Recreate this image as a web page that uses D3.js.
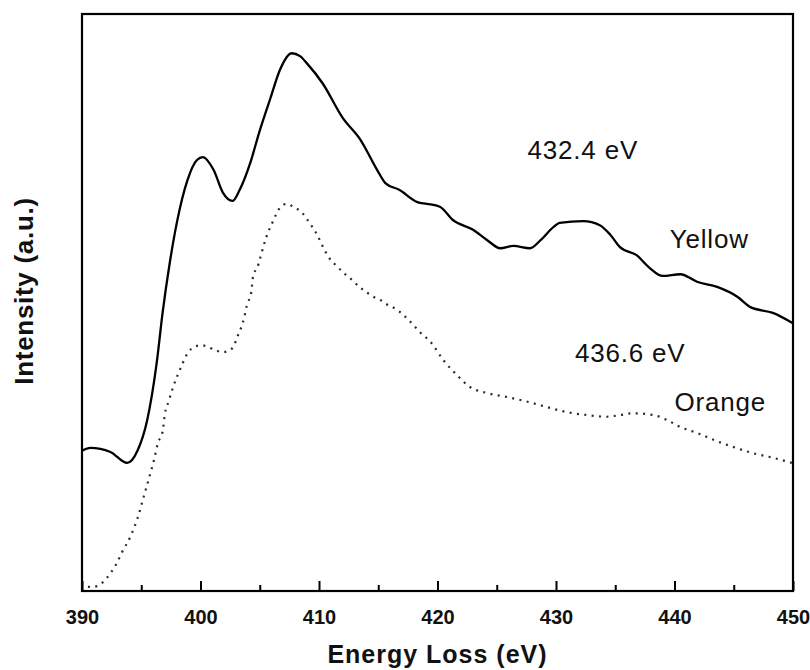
<!DOCTYPE html>
<html>
<head>
<meta charset="utf-8">
<script src="https://cdn.jsdelivr.net/npm/d3@7"></script>
<style>
  html, body { margin: 0; padding: 0; background: #fff; }
  svg text { font-family: "Liberation Sans", Arial, sans-serif; fill: #111; }
</style>
</head>
<body>
<div id="chart"></div>
<script>
// Energy loss (eV) and intensity (a.u., arbitrary 0..100)
const yellowE = [390.0, 390.7, 392.4, 393.8, 394.7, 395.5, 396.3, 396.8, 397.4, 398.0, 398.9, 399.7, 400.2,
  401.1, 401.9, 402.7, 403.3, 404.2, 405.0, 405.9, 406.7, 407.7, 408.4, 409.0, 410.3, 412.0, 413.5, 414.9,
  415.6, 416.8, 418.3, 419.1, 420.2, 421.3, 423.0, 424.2, 425.3, 426.4, 427.8, 428.7, 429.8, 430.3, 432.3,
  433.7, 434.6, 435.4, 436.8, 437.9, 439.0, 440.5, 441.9, 443.6, 445.3, 446.4, 448.3, 450.0];
const yellowI = [24.3, 24.8, 24.1, 22.2, 24.4, 29.6, 39.5, 48.2, 56.8, 63.8, 71.2, 74.7, 75.2,
  73.0, 69.0, 67.6, 69.5, 74.2, 79.8, 85.4, 90.3, 93.2, 92.7, 91.4, 88.0, 82.0, 78.2, 73.0,
  70.7, 69.5, 67.4, 67.1, 66.6, 64.3, 62.6, 60.8, 59.4, 59.8, 59.4, 60.8, 63.1, 63.8, 64.1,
  63.4, 61.7, 59.6, 58.2, 56.0, 54.6, 54.9, 53.6, 52.7, 51.0, 49.2, 48.2, 46.4];

const orangeE = [390.5, 390.9, 391.7, 392.3, 392.9, 393.4, 394.1, 394.7, 395.2, 395.8, 396.1, 396.4, 396.8,
  397.0, 397.3, 397.7, 398.4, 398.9, 399.5, 400.1, 400.6, 401.4, 401.9, 402.7, 403.1, 403.7, 403.9, 404.3,
  404.4, 404.9, 405.2, 405.5, 406.1, 406.7, 407.3, 407.8, 408.6, 409.2, 409.8, 410.3, 410.8, 411.5, 412.1,
  412.8, 413.4, 414.0, 414.5, 415.2, 415.7, 416.2, 416.8, 417.4, 418.1, 418.5, 419.4, 420.5, 421.7, 422.7,
  424.2, 425.9, 427.6, 429.2, 430.9, 432.6, 434.3, 435.4, 436.5, 438.2, 439.4, 440.5, 441.9, 443.3, 444.9,
  446.6, 448.3, 449.9];
const orangeI = [0.7, 0.7, 1.4, 2.8, 4.7, 6.8, 9.5, 12.7, 16.3, 20.6, 22.9, 25.6, 27.6,
  30.8, 32.8, 35.4, 39.0, 41.2, 42.3, 42.6, 42.3, 41.6, 41.4, 42.1, 44.0, 47.5, 49.4, 52.0,
  54.1, 56.7, 58.9, 61.0, 64.0, 66.4, 67.1, 66.6, 65.5, 63.8, 61.9, 59.8, 57.9, 56.3, 55.1,
  53.9, 52.7, 51.8, 51.1, 50.4, 49.7, 49.2, 48.4, 47.3, 45.8, 44.9, 43.2, 40.0, 37.3, 35.4,
  34.3, 33.6, 32.8, 31.9, 31.0, 30.5, 30.2, 30.5, 30.8, 30.5, 29.6, 28.4, 27.4, 26.2, 25.0,
  23.9, 23.1, 22.2];

const majorTicks = [390, 400, 410, 420, 430, 440, 450];
const minorTicks = [395, 405, 415, 425, 435, 445];

// annotation texts with their anchor (energy, intensity)
const noteText = ['432.4 eV', 'Yellow', '436.6 eV', 'Orange'];
const noteE    = [427.6, 439.6, 431.6, 440.0];
const noteI    = [74.9, 59.5, 39.7, 31.2];

const W = 810, H = 670;
const margin = { top: 14, right: 17, bottom: 79, left: 82 };

const svg = d3.select('#chart').append('svg').attr('width', W).attr('height', H);

const x = d3.scaleLinear().domain([390, 450]).range([margin.left, W - margin.right]);
const y = d3.scaleLinear().domain([0, 100]).range([H - margin.bottom, margin.top]);

const line = d3.line()
  .x(d => x(d[0])).y(d => y(d[1]))
  .curve(d3.curveMonotoneX);

const yellow = yellowE.map((e, i) => [e, yellowI[i]]);
const orange = orangeE.map((e, i) => [e, orangeI[i]]);

// clip to plot box
svg.append('clipPath').attr('id', 'clip')
  .append('rect')
  .attr('x', margin.left).attr('y', margin.top)
  .attr('width', W - margin.left - margin.right)
  .attr('height', H - margin.top - margin.bottom);

const plot = svg.append('g').attr('clip-path', 'url(#clip)');

plot.append('path').datum(orange)
  .attr('d', line)
  .attr('fill', 'none')
  .attr('stroke', '#2a2a2a')
  .attr('stroke-width', 2.2)
  .attr('stroke-dasharray', '2,5.4');

plot.append('path').datum(yellow)
  .attr('d', line)
  .attr('fill', 'none')
  .attr('stroke', '#000')
  .attr('stroke-width', 2.3)
  .attr('stroke-linejoin', 'round');

// bottom axis with inward ticks
const xAxis = d3.axisBottom(x).tickValues(majorTicks).tickSizeInner(-10).tickSizeOuter(0)
  .tickFormat(d3.format('d')).tickPadding(20);
const gx = svg.append('g').attr('transform', `translate(0,${y(0)})`).call(xAxis);
gx.select('.domain').remove();
gx.selectAll('.tick line').attr('stroke', '#000').attr('stroke-width', 2);
gx.selectAll('.tick text')
  .attr('fill', '#111').style('font-size', '20px').style('font-weight', 'bold')
  .attr('dy', '0.65em');

const gm = svg.append('g').attr('transform', `translate(0,${y(0)})`)
  .call(d3.axisBottom(x).tickValues(minorTicks).tickSizeInner(-6).tickSizeOuter(0).tickFormat(''));
gm.select('.domain').remove();
gm.selectAll('.tick line').attr('stroke', '#000').attr('stroke-width', 2);

// frame
svg.append('rect')
  .attr('x', x(390)).attr('y', y(100))
  .attr('width', x(450) - x(390)).attr('height', y(0) - y(100))
  .attr('fill', 'none').attr('stroke', '#000').attr('stroke-width', 2.2);

// axis titles
svg.append('text')
  .attr('x', (x(390) + x(450)) / 2).attr('y', 663)
  .attr('text-anchor', 'middle')
  .style('font-size', '25px').style('font-weight', 'bold').style('letter-spacing', '1px')
  .text('Energy Loss (eV)');

svg.append('text')
  .attr('transform', `translate(33,${y(52)}) rotate(-90)`)
  .attr('text-anchor', 'middle')
  .style('font-size', '26px').style('font-weight', 'bold').style('letter-spacing', '0.7px')
  .text('Intensity (a.u.)');

// annotations
noteText.forEach((t, i) => {
  svg.append('text')
    .attr('x', x(noteE[i])).attr('y', y(noteI[i]))
    .style('font-size', '26px').style('letter-spacing', '0.8px')
    .text(t);
});
</script>
</body>
</html>
